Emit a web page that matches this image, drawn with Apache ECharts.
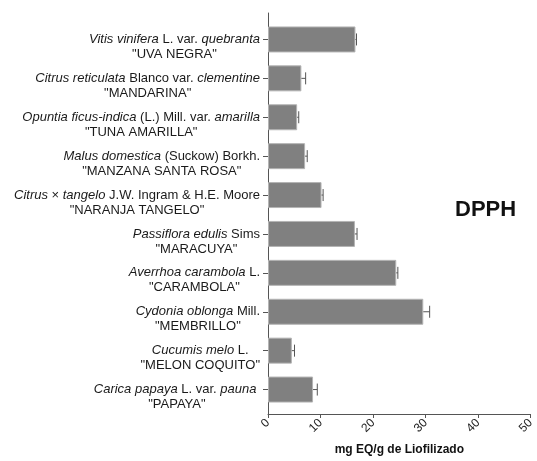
<!DOCTYPE html>
<html>
<head>
<meta charset="utf-8">
<script src="https://cdn.jsdelivr.net/npm/echarts@6/dist/echarts.min.js"></script>
<style>
  html, body { margin: 0; padding: 0; background: #fff; }
  #chart { width: 537px; height: 461px; }
</style>
</head>
<body>
<div id="chart"></div>
<script>
(function(){
	// categorias (texto enriquecido: i = cursiva, n = normal)
	var categories = [
		'{i|Vitis vinifera}{n| L. var. }{i|quebranta}\n{n|"UVA NEGRA"}',
		'{i|Citrus reticulata}{n| Blanco var. }{i|clementine}\n{n|"MANDARINA"}',
		'{i|Opuntia ficus-indica}{n| (L.) Mill. var. }{i|amarilla}\n{n|"TUNA AMARILLA"}',
		'{i|Malus domestica}{n| (Suckow) Borkh.}\n{n|"MANZANA SANTA ROSA"}',
		'{i|Citrus}{n| × }{i|tangelo}{n| J.W. Ingram & H.E. Moore}\n{n|"NARANJA TANGELO"}',
		'{i|Passiflora edulis}{n| Sims}\n{n|"MARACUYA"}',
		'{i|Averrhoa carambola}{n| L.}\n{n|"CARAMBOLA"}',
		'{i|Cydonia oblonga}{n| Mill.}\n{n|"MEMBRILLO"}',
		'{i|Cucumis melo}{n| L.}\n{n|"MELON COQUITO"}',
		'{i|Carica papaya}{n| L. var. }{i|pauna}{n| }\n{n|"PAPAYA"}'
	];
	// valores medios y desviacion
	var means = [16.5, 6.3, 5.5, 7.0, 10.1, 16.4, 24.2, 29.3, 4.5, 8.5];
	var errors = [0.2, 0.8, 0.3, 0.4, 0.3, 0.4, 0.3, 1.2, 0.5, 0.8];
	var xTicks = [0, 10, 20, 30, 40, 50];

	var font = 'Liberation Sans, Arial, sans-serif';
	var axisColor = '#555';

	var errData = [];
	for (var i = 0; i < means.length; i++) {
		errData.push([i, means[i], means[i] + errors[i]]);
	}

	var myChart = echarts.init(document.getElementById('chart'));

	var option = {
		animation: false,
		textStyle: { fontFamily: font },
		grid: [
			{ left: 268, right: 4, top: 20, bottom: 52 },
			{ left: 268, right: 4, top: 13, bottom: 46 }
		],
		graphic: [{
			type: 'text',
			left: 455,
			top: 199,
			style: {
				text: 'DPPH',
				font: 'bold 22px ' + font,
				fill: '#111'
			}
		}],
		xAxis: [
			{
				gridIndex: 0, type: 'value',
				min: xTicks[0], max: xTicks[xTicks.length - 1], interval: 10,
				show: false
			},
			{
				gridIndex: 1, type: 'value',
				min: xTicks[0], max: xTicks[xTicks.length - 1], interval: 10,
				name: 'mg EQ/g de Liofilizado',
				nameLocation: 'middle',
				nameGap: 30,
				nameTextStyle: { fontWeight: 'bold', fontSize: 12, color: '#111' },
				axisLine: { show: true, lineStyle: { color: axisColor, width: 1 } },
				axisTick: { show: true, length: 4, lineStyle: { color: axisColor } },
				axisLabel: { rotate: 45, fontSize: 12, color: '#222', margin: 7 },
				splitLine: { show: false }
			}
		],
		yAxis: [
			{
				gridIndex: 0, type: 'category', inverse: true,
				data: categories,
				axisLine: { show: false },
				axisTick: { show: true, alignWithLabel: true, length: 5, interval: 0, lineStyle: { color: axisColor } },
				axisLabel: {
					interval: 0,
					showMinLabel: true,
					showMaxLabel: true,
					hideOverlap: false,
					margin: 8,
					padding: [15, 0, 0, 0],
					lineHeight: 15,
					color: '#1a1a1a',
					fontSize: 13,
					rich: {
						i: { fontStyle: 'italic', fontSize: 13, lineHeight: 15, align: 'center', color: '#1a1a1a' },
						n: { fontSize: 13, lineHeight: 15, align: 'center', color: '#1a1a1a' }
					}
				}
			},
			{
				gridIndex: 1, type: 'value',
				axisLine: { show: true, lineStyle: { color: axisColor, width: 1 } },
				axisTick: { show: false },
				axisLabel: { show: false },
				splitLine: { show: false }
			}
		],
		series: [
			{
				type: 'bar',
				xAxisIndex: 0, yAxisIndex: 0,
				barWidth: 26,
				itemStyle: { color: '#808080', borderColor: '#b4b4b4', borderWidth: 1 },
				data: means,
				z: 2
			},
			{
				type: 'custom',
				xAxisIndex: 0, yAxisIndex: 0,
				encode: { x: [1, 2], y: 0 },
				data: errData,
				z: 3,
				renderItem: function (params, api) {
					var idx = api.value(0);
					var p0 = api.coord([api.value(1), idx]);
					var p1 = api.coord([api.value(2), idx]);
					var h = 6;
					var st = { stroke: '#555', lineWidth: 1 };
					return {
						type: 'group',
						children: [
							{ type: 'line', shape: { x1: p0[0], y1: p0[1], x2: p1[0], y2: p1[1] }, style: st },
							{ type: 'line', shape: { x1: p1[0], y1: p1[1] - h, x2: p1[0], y2: p1[1] + h }, style: st }
						]
					};
				}
			}
		]
	};

	myChart.setOption(option, true);
	window.onresize = myChart.resize;
}())
</script>
</body>
</html>
